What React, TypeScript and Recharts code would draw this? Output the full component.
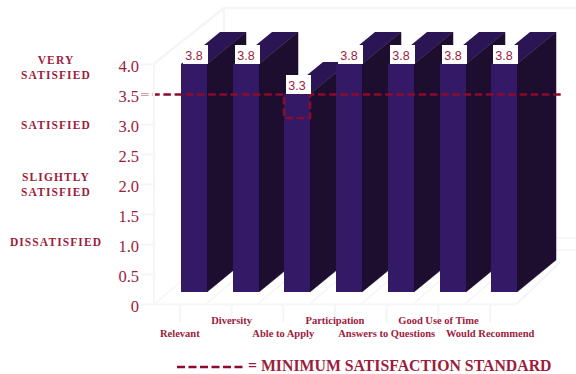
import { Bar, BarChart, LabelList, ReferenceLine, XAxis, YAxis } from "recharts";

const categories = [
  "Relevant",
  "Diversity",
  "Able to Apply",
  "Participation",
  "Answers to Questions",
  "Good Use of Time",
  "Would Recommend",
];
const scores = [3.8, 3.8, 3.3, 3.8, 3.8, 3.8, 3.8];
const yTicks = [0, 0.5, 1, 1.5, 2, 2.5, 3, 3.5, 4];
const ratingNames: Record<number, string[]> = {
  4: ["VERY", "SATISFIED"],
  3: ["SATISFIED"],
  2: ["SLIGHTLY", "SATISFIED"],
  1: ["DISSATISFIED"],
};
const minimumStandard = 3.5;

const data = categories.map((name, i) => ({ name, score: scores[i] }));

const MAROON = "#9c1c3c";
const LINE_RED = "#8c0a2c";
const WALL = "#f5f5f5";
const FRONT = "#341a66";
const SIDE = "#1d0e30";
const TOP = "#2b1554";

// the columns sit further back than the axes, so everything is pushed by this much
const SHIFT_X = 14;
const SHIFT_Y = -12.5;
const DEPTH_X = 39;
const DEPTH_Y = -32;
const BAR_W = 26;
const PLOT_LEFT = 154;
const PLOT_RIGHT = 516;
const PLOT_TOP = 64.5;
const PLOT_BOTTOM = 304.5;

function Column({ x, y, width, height }: any) {
  const l = Math.round(x + SHIFT_X);
  const r = l + Math.round(width);
  const t = Math.round(y + SHIFT_Y);
  const b = Math.round(y + SHIFT_Y + height);
  return (
    <g>
      <polygon
        points={`${l},${t} ${r},${t} ${r + DEPTH_X},${t + DEPTH_Y} ${l + DEPTH_X},${t + DEPTH_Y}`}
        fill={TOP}
      />
      <polygon
        points={`${r},${t} ${r + DEPTH_X},${t + DEPTH_Y} ${r + DEPTH_X},${b + DEPTH_Y} ${r},${b}`}
        fill={SIDE}
        stroke={SIDE}
        strokeWidth={0.5}
      />
      <rect x={l} y={t} width={r - l} height={b - t} fill={FRONT} />
    </g>
  );
}

function ScoreLabel({ x, y, width, value }: any) {
  const l = Math.round(x + SHIFT_X);
  const t = Math.round(y + SHIFT_Y);
  return (
    <g>
      <rect x={l + 2} y={t - 19} width={width - 1} height={19} fill="#fff" />
      <text
        x={l + width / 2}
        y={t - 4}
        textAnchor="middle"
        fontFamily="Liberation Sans"
        fontSize={12.5}
        fill={MAROON}
      >
        {value.toFixed(1)}
      </text>
    </g>
  );
}

function ScoreTick({ x, y, payload }: any) {
  const v = payload.value;
  const lines = ratingNames[v];
  const nudge = v === 4 ? 3 : v === 1 ? -3 : 0;
  return (
    <g>
      <text
        x={x}
        y={y + 7}
        textAnchor="end"
        fontFamily="Liberation Serif"
        fontSize={16.5}
        fill={MAROON}
      >
        {v === 0 ? "0" : v.toFixed(1)}
      </text>
      {lines &&
        lines.map((line, i) => (
          <text
            key={line}
            x={56}
            y={y + nudge + 4 + (i - (lines.length - 1) / 2) * 15.5}
            textAnchor="middle"
            fontFamily="Liberation Serif"
            fontWeight="bold"
            fontSize={11.5}
            letterSpacing={1.1}
            fill={MAROON}
          >
            {line}
          </text>
        ))}
    </g>
  );
}

// labels alternate between two rows so the long ones fit
function CategoryTick({ x, payload, index }: any) {
  return (
    <text
      x={x}
      y={index % 2 === 0 ? 336.5 : 324}
      textAnchor="middle"
      fontFamily="Liberation Serif"
      fontWeight="bold"
      fontSize={10.5}
      fill={MAROON}
    >
      {payload.value}
    </text>
  );
}

// dashed standard line, which drops around any column that falls short of it
function StandardLine({ x1, x2, y1 }: any) {
  const step = (x2 - x1) / categories.length;
  let d = `M${x1 - 13},${y1}`;
  scores.forEach((score, i) => {
    if (score < minimumStandard) {
      const l = Math.round(x1 + step * i + (step - BAR_W) / 2 + SHIFT_X);
      d += ` H${l} V${y1 + 23.5} H${l + BAR_W} V${y1}`;
    }
  });
  d += ` H${x2 + 46}`;
  return <path d={d} fill="none" stroke={LINE_RED} strokeWidth={2.6} strokeDasharray="7.5 3.7" />;
}

function Walls() {
  const step = (PLOT_RIGHT - PLOT_LEFT) / categories.length;
  const floor = categories
    .map((_, i) => {
      const x = PLOT_LEFT + step * i;
      return `M${x},${PLOT_BOTTOM} l44,-38`;
    })
    .join(" ");
  return (
    <g fill="none" stroke={WALL}>
      <path
        strokeWidth={2.5}
        d={`M${PLOT_LEFT - 1},${PLOT_TOP} L224,8 H576 M224,8 V34`}
      />
      <path strokeWidth={1.5} d={floor} />
      <path
        strokeWidth={2}
        d={`M${PLOT_RIGHT},${PLOT_BOTTOM} L560,262 M557,238 H576 M557,250 H576`}
      />
    </g>
  );
}

export default function App() {
  return (
    <div style={{ position: "absolute", left: 0, top: 0, width: 576, height: 374, background: "#fff" }}>
      <BarChart
        width={576}
        height={374}
        data={data}
        margin={{ top: PLOT_TOP, right: 576 - PLOT_RIGHT, bottom: 39.5, left: 0 }}
      >
        <Walls />
        <XAxis
          dataKey="name"
          height={30}
          interval={0}
          axisLine={{ stroke: WALL, strokeWidth: 2 }}
          tickLine={{ stroke: WALL, strokeWidth: 2 }}
          tickSize={18}
          tick={<CategoryTick />}
        />
        <YAxis
          width={PLOT_LEFT}
          domain={[0, 4]}
          ticks={yTicks}
          axisLine={{ stroke: WALL, strokeWidth: 2 }}
          tickLine={{ stroke: WALL, strokeWidth: 2 }}
          tickSize={13}
          tickMargin={2}
          tick={<ScoreTick />}
        />
        <Bar dataKey="score" barSize={BAR_W} shape={<Column />} isAnimationActive={false}>
          <LabelList dataKey="score" content={<ScoreLabel />} />
        </Bar>
        <ReferenceLine y={minimumStandard} shape={<StandardLine />} />
      </BarChart>
      <svg
        width={70}
        height={6}
        style={{ position: "absolute", left: 177, top: 364 }}
      >
        <line x1={0} y1={3} x2={66} y2={3} stroke={LINE_RED} strokeWidth={2.5} strokeDasharray="8 3.5" />
      </svg>
      <div
        style={{
          position: "absolute",
          left: 248,
          top: 357,
          fontFamily: "Liberation Serif",
          fontWeight: "bold",
          fontSize: 15.8,
          lineHeight: "18px",
          color: MAROON,
          whiteSpace: "nowrap",
        }}
      >
        = MINIMUM SATISFACTION STANDARD
      </div>
    </div>
  );
}
